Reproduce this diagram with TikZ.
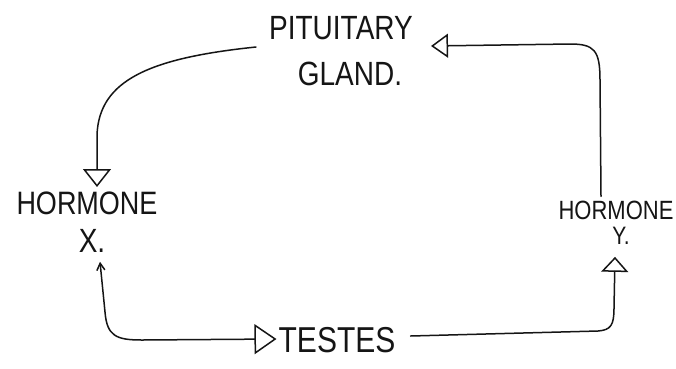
\documentclass[tikz,border=0pt]{standalone}
\usepackage{fontspec}
\setmainfont{Liberation Sans}
\usetikzlibrary{arrows.meta,calc}
\definecolor{ink}{HTML}{151515}
\newcommand{\tallt}[1]{\scalebox{1}[1.2]{#1}}
\tikzset{
  lbl/.style={inner sep=0pt, text=ink, anchor=center},
  conn/.style={draw=ink, line width=1.5pt, line cap=round, line join=round},
}
\begin{document}
\begin{tikzpicture}[x=1pt,y=-1pt]
\useasboundingbox (0,0) rectangle (676,368);
\fill[white] (0,0) rectangle (676,368);

\node[lbl, font=\fontsize{28}{28}\selectfont] (pit1) at (341,28) {\tallt{PITUITARY}};
\node[lbl, font=\fontsize{28}{28}\selectfont] (pit2) at (350,74) {\tallt{GLAND.}};
\node[lbl, font=\fontsize{27}{27}\selectfont] (hx) at (87,203) {\tallt{HORMONE}};
\node[lbl, font=\fontsize{28}{28}\selectfont] (xx) at (92,241) {\tallt{X.}};
\node[lbl, font=\fontsize{22}{22}\selectfont] (hy) at (616,210) {\tallt{HORMONE}};
\node[lbl, font=\fontsize{21}{21}\selectfont] (yy) at (621,236) {\tallt{Y.}};
\node[lbl, font=\fontsize{30}{30}\selectfont] (tes) at (337,340) {\tallt{TESTES}};

% Pituitary -> Hormone X
\draw[conn, -{Triangle[open,length=18pt,width=28pt,line width=1.5pt]}]
  ($(pit1.west)+(-13,19)$) .. controls (150,58) and (99,80) .. (97,135)
  -- (97,187);

% Hormone Y -> Pituitary
\draw[conn, -{Triangle[open,length=17pt,width=24pt,line width=1.5pt]}]
  ($(hy.north)+(-15,-4)$) -- (600,80) .. controls (600,50) and (594,44) .. (570,44)
  -- ($(pit1.east)+(18,18)$);

% Testes -> Hormone Y
\draw[conn, -{Triangle[open,length=15pt,width=27pt,line width=1.5pt]}]
  ($(tes.east)+(15,-4)$) -- (598,331) .. controls (611,330) and (614,325) .. (614,308)
  -- ($(yy.south)+(-6,12)$);

% Hormone X <-> Testes
\draw[conn, {Straight Barb[length=7pt,width=8pt,line width=1.5pt]}-{Triangle[open,length=22pt,width=30pt,line width=1.5pt]}]
  ($(xx.south)+(8,9)$) -- (105,312) .. controls (107,336) and (116,340) .. (142,340)
  -- ($(tes.west)+(-2,-1)$);
\end{tikzpicture}
\end{document}
